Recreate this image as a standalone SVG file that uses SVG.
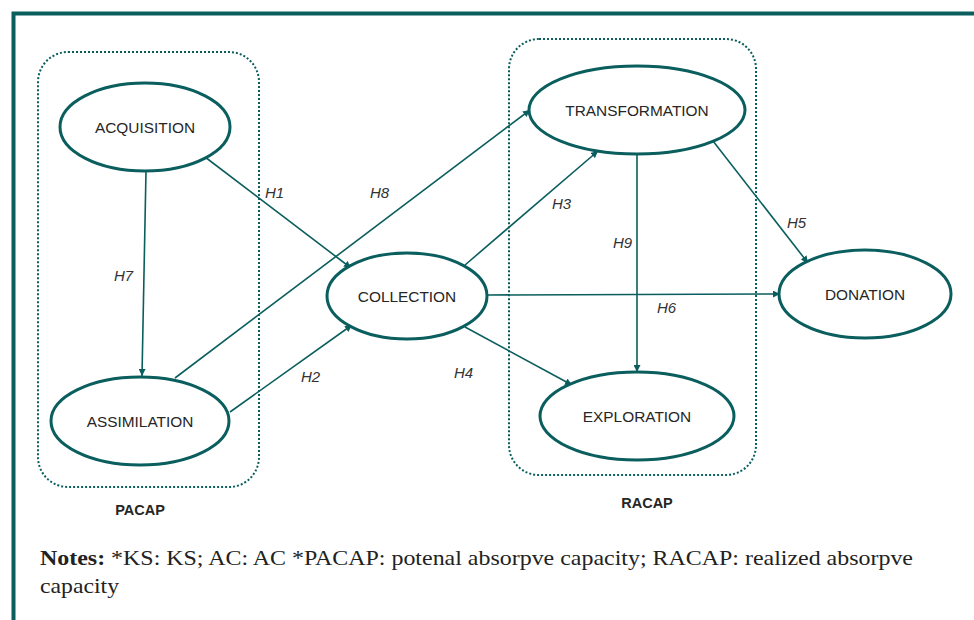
<svg xmlns="http://www.w3.org/2000/svg" width="974" height="620" viewBox="0 0 974 620">
<defs>
<marker id="arr" viewBox="0 0 10 10" refX="10" refY="5" markerWidth="7" markerHeight="7" markerUnits="userSpaceOnUse" orient="auto">
<path d="M0,0 L10,5 L0,10 z" fill="#0b5e5e"/>
</marker>
<style>
.frame{fill:none;stroke:#0b5e5e;stroke-width:4}
.grp{fill:none;stroke:#0b5e5e;stroke-width:2;stroke-dasharray:2 2}
.node ellipse{fill:#fff;stroke:#0b5e5e;stroke-width:3}
.node text{font-family:"Liberation Sans",Arial,sans-serif;font-size:15.4px;fill:#262626;text-anchor:middle}
.conn line{stroke:#0b5e5e;stroke-width:1.6;marker-end:url(#arr)}
.h{font-family:"Liberation Sans",Arial,sans-serif;font-size:15px;font-style:italic;fill:#333}
.glabel{font-family:"Liberation Sans",Arial,sans-serif;font-size:14.5px;font-weight:bold;fill:#262626;text-anchor:middle}
.note{font-family:"Liberation Serif","Times New Roman",serif;font-size:22px;fill:#222}
</style>
</defs>
<rect width="974" height="620" fill="#fff"/>
<path class="frame" d="M13.5,630 V13.5 H990"/>
<g id="PACAP">
<rect class="grp" x="38" y="52" width="221" height="435" rx="30" ry="30"/>
<text class="glabel" x="140" y="515">PACAP</text>
</g>
<g id="RACAP">
<rect class="grp" x="509" y="39" width="247" height="436" rx="30" ry="30"/>
<text class="glabel" x="647" y="508">RACAP</text>
</g>
<g id="connectors" class="conn">
<line x1="146" y1="171" x2="142" y2="376"/>
<line x1="205" y1="157" x2="351" y2="268"/>
<line x1="175" y1="378" x2="530" y2="110"/>
<line x1="230" y1="412" x2="352" y2="325"/>
<line x1="465" y1="265" x2="598" y2="151"/>
<line x1="488" y1="295" x2="780" y2="294"/>
<line x1="465" y1="327" x2="572" y2="385"/>
<line x1="637" y1="155" x2="637" y2="372"/>
<line x1="713" y1="141" x2="808" y2="263"/>
</g>
<g id="hlabels">
<text class="h" x="114" y="281">H7</text>
<text class="h" x="265" y="198">H1</text>
<text class="h" x="370" y="198">H8</text>
<text class="h" x="301" y="382">H2</text>
<text class="h" x="552" y="209">H3</text>
<text class="h" x="454" y="378">H4</text>
<text class="h" x="787" y="228">H5</text>
<text class="h" x="613" y="248">H9</text>
<text class="h" x="657" y="313">H6</text>
</g>
<g id="ACQUISITION" class="node"><ellipse cx="145" cy="127" rx="85" ry="44"/><text x="145" y="133">ACQUISITION</text></g>
<g id="ASSIMILATION" class="node"><ellipse cx="140" cy="421" rx="89" ry="44"/><text x="140" y="427">ASSIMILATION</text></g>
<g id="COLLECTION" class="node"><ellipse cx="407" cy="296" rx="80" ry="43"/><text x="407" y="302">COLLECTION</text></g>
<g id="TRANSFORMATION" class="node"><ellipse cx="637" cy="110" rx="108" ry="44"/><text x="637" y="116">TRANSFORMATION</text></g>
<g id="EXPLORATION" class="node"><ellipse cx="637" cy="416" rx="97" ry="44"/><text x="637" y="422">EXPLORATION</text></g>
<g id="DONATION" class="node"><ellipse cx="865" cy="294" rx="86" ry="44"/><text x="865" y="300">DONATION</text></g>
<text class="note" x="40" y="565" textLength="873" lengthAdjust="spacingAndGlyphs"><tspan font-weight="bold">Notes:</tspan> *KS: KS; AC: AC *PACAP: potenal absorpve capacity; RACAP: realized absorpve</text>
<text class="note" x="40" y="593" textLength="79" lengthAdjust="spacingAndGlyphs">capacity</text>
</svg>
